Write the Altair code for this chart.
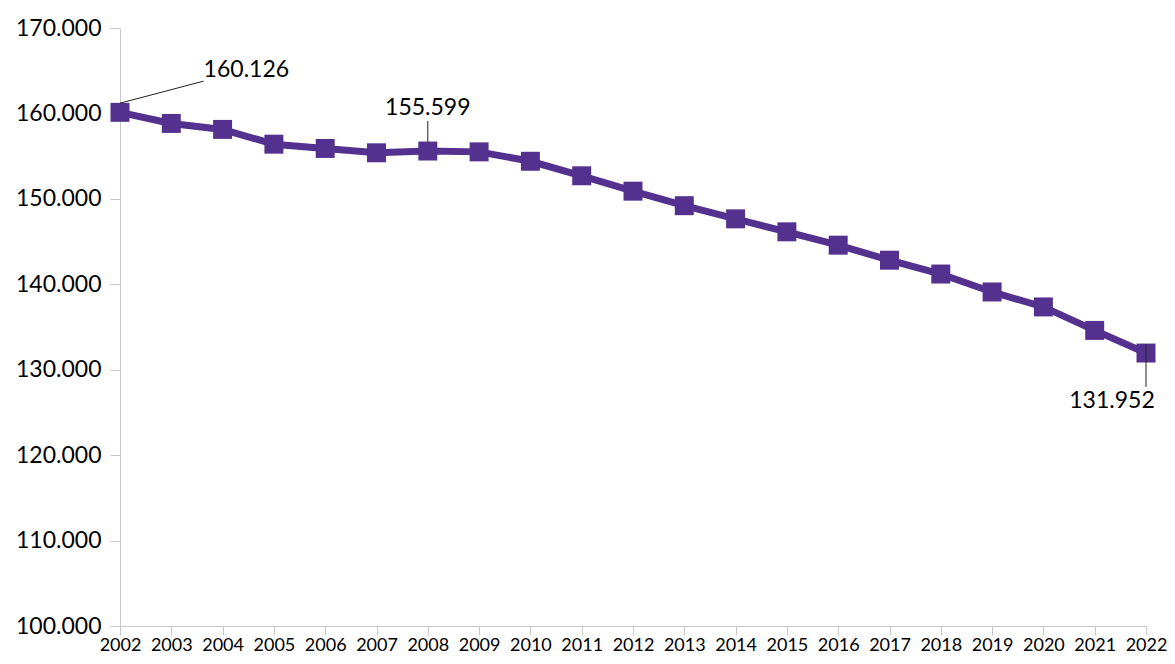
import altair as alt
import pandas as pd

years = list(range(2002, 2023))
values = [160.126, 158.83, 158.13, 156.4, 155.9, 155.39, 155.599, 155.5, 154.4,
          152.7, 150.9, 149.2, 147.66, 146.14, 144.58, 142.82, 141.2, 139.1,
          137.35, 134.6, 131.952]

# annotation labels (text position in data units) and their leader lines
ann_labels = ["160.126", "155.599", "131.952"]
ann_text_x = [2003.63, 2008.0, 2022.17]
ann_text_y = [164.29, 159.8, 125.49]
ann_align = ["left", "center", "right"]
lead_x1 = [2002.0, 2008.0, 2022.0]
lead_y1 = [161.2, 159.13, 132.98]
lead_x2 = [2003.63, 2008.0, 2022.0]
lead_y2 = [163.78, 156.67, 128.0]

df = pd.DataFrame({"year": years, "value": values})
ann = pd.DataFrame({"label": ann_labels, "tx": ann_text_x, "ty": ann_text_y,
                    "align": ann_align, "x1": lead_x1, "y1": lead_y1,
                    "x2": lead_x2, "y2": lead_y2})

FONT = "Lato"
PURPLE = "#55318F"
AXIS_GREY = "#C8C8C8"

xscale = alt.Scale(domain=[2002, 2022], nice=False, zero=False)
yscale = alt.Scale(domain=[100, 170], nice=False, zero=False)

x_enc = alt.X("year:Q", scale=xscale, axis=alt.Axis(
    values=years, format="d", title=None, grid=False, tickSize=9,
    labelFontSize=18, labelPadding=1, labelColor="#000000", labelFont=FONT,
    domainColor=AXIS_GREY, tickColor=AXIS_GREY, labelFlush=False,
    labelOverlap=False))
y_enc = alt.Y("value:Q", scale=yscale, axis=alt.Axis(
    values=[100, 110, 120, 130, 140, 150, 160, 170], format=".3f", title=None,
    grid=False, tickSize=10, labelFontSize=23, labelPadding=9,
    labelColor="#000000", labelFont=FONT, domainColor=AXIS_GREY,
    tickColor=AXIS_GREY))

base = alt.Chart(df)
line = base.mark_line(color=PURPLE, strokeWidth=7).encode(x=x_enc, y=y_enc)
pts = base.mark_point(shape="square", filled=True, opacity=1, color=PURPLE,
                      size=360).encode(x="year:Q", y="value:Q")

rules = alt.Chart(ann).mark_rule(color="#202020", strokeWidth=1).encode(
    x=alt.X("x1:Q", scale=xscale), y=alt.Y("y1:Q", scale=yscale),
    x2="x2:Q", y2="y2:Q")

texts = []
for a in ann_align:
    texts.append(alt.Chart(ann[ann["align"] == a]).mark_text(
        align=a, baseline="alphabetic", font=FONT, fontSize=23, color="#000000"
    ).encode(x=alt.X("tx:Q", scale=xscale), y=alt.Y("ty:Q", scale=yscale),
             text="label:N"))

chart = alt.layer(line, pts, rules, *texts).properties(
    width=1026, height=598,
    background="white",
    autosize=alt.AutoSizeParams(type="none"),
    padding={"left": 112, "top": 20, "right": 21, "bottom": 30},
).configure_view(strokeWidth=0, stroke=None)

chart.save("out.html", embed_options={"renderer": "svg", "actions": False})
